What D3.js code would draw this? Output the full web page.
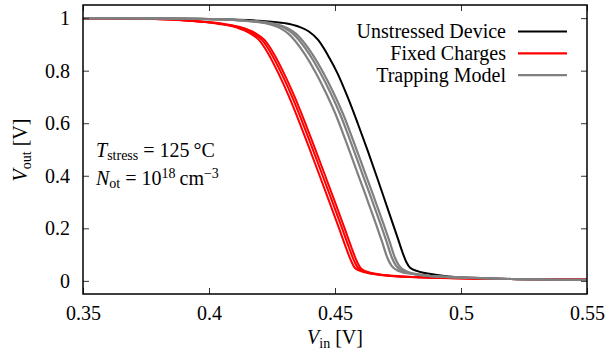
<!DOCTYPE html>
<html><head><meta charset="utf-8">
<script src="https://cdn.jsdelivr.net/npm/d3@7"></script>
<style>
body{margin:0;background:#fff;}
</style></head>
<body><svg id="c" width="610" height="353"></svg>
<script>
const xTicks = [0.35, 0.40, 0.45, 0.50, 0.55];
const xTickLabels = ["0.35", "0.4", "0.45", "0.5", "0.55"];
const yTicks = [0, 0.2, 0.4, 0.6, 0.8, 1];
const yTickLabels = ["0", "0.2", "0.4", "0.6", "0.8", "1"];
const legendLabels = ["Unstressed Device", "Fixed Charges", "Trapping Model"];
const legendColors = ["#000000", "#ff0000", "#808080"];

const unstressed = [[0.35,1.0],[0.38,0.999],[0.40,0.997],[0.42,0.99],[0.43,0.981],[0.4355,0.968],[0.4395,0.95],[0.4433,0.917],[0.4470,0.862],[0.4510,0.790],[0.4550,0.700],[0.4590,0.600],[0.4630,0.495],[0.4670,0.385],[0.4710,0.272],[0.4750,0.160],[0.4768,0.108],[0.4783,0.072],[0.4798,0.050],[0.4830,0.036],[0.4880,0.026],[0.4950,0.017],[0.505,0.011],[0.52,0.007],[0.55,0.004]];

const fixed1 = [[0.35,1.0],[0.37,0.999],[0.385,0.995],[0.395,0.988],[0.404,0.978],[0.4113,0.963],[0.4158,0.945],[0.4198,0.917],[0.4238,0.86],[0.4278,0.785],[0.4318,0.70],[0.4358,0.605],[0.4398,0.505],[0.4438,0.403],[0.4478,0.300],[0.4518,0.195],[0.4543,0.128],[0.4563,0.078],[0.4580,0.048],[0.4605,0.036],[0.4660,0.025],[0.4750,0.017],[0.49,0.012],[0.51,0.008],[0.55,0.005]];
const fixed2 = [[0.35,1.0],[0.37,0.999],[0.385,0.995],[0.395,0.988],[0.405,0.978],[0.4125,0.963],[0.4170,0.945],[0.4210,0.917],[0.4250,0.86],[0.4290,0.785],[0.4330,0.70],[0.4370,0.605],[0.4410,0.505],[0.4450,0.403],[0.4490,0.300],[0.4530,0.195],[0.4555,0.128],[0.4575,0.078],[0.4592,0.048],[0.4617,0.035],[0.4670,0.024],[0.4758,0.017],[0.49,0.012],[0.51,0.008],[0.55,0.005]];
const fixed3 = [[0.35,1.0],[0.37,0.999],[0.385,0.995],[0.395,0.988],[0.406,0.978],[0.4135,0.963],[0.4180,0.945],[0.4220,0.917],[0.4260,0.86],[0.4300,0.785],[0.4340,0.70],[0.4380,0.605],[0.4420,0.505],[0.4460,0.403],[0.4500,0.300],[0.4540,0.195],[0.4565,0.128],[0.4585,0.078],[0.4602,0.048],[0.4627,0.035],[0.4680,0.024],[0.4765,0.017],[0.49,0.012],[0.51,0.008],[0.55,0.005]];

const trap1 = [[0.35,1.0],[0.38,0.999],[0.40,0.996],[0.414,0.99],[0.4235,0.978],[0.4282,0.962],[0.4316,0.94],[0.4343,0.912],[0.4382,0.86],[0.4422,0.795],[0.4462,0.72],[0.4502,0.635],[0.4542,0.535],[0.4582,0.430],[0.4622,0.325],[0.4662,0.218],[0.4687,0.148],[0.4707,0.090],[0.4724,0.058],[0.4752,0.038],[0.4815,0.025],[0.4910,0.016],[0.505,0.011],[0.52,0.007],[0.55,0.004]];
const trap2 = [[0.35,1.0],[0.38,0.999],[0.40,0.996],[0.415,0.99],[0.425,0.978],[0.4300,0.962],[0.4334,0.94],[0.4361,0.912],[0.4400,0.86],[0.4440,0.795],[0.4480,0.72],[0.4520,0.635],[0.4560,0.535],[0.4600,0.430],[0.4640,0.325],[0.4680,0.218],[0.4705,0.148],[0.4725,0.090],[0.4742,0.058],[0.4770,0.038],[0.4830,0.024],[0.4917,0.016],[0.505,0.011],[0.52,0.007],[0.55,0.004]];
const trap3 = [[0.35,1.0],[0.38,0.999],[0.40,0.996],[0.4155,0.99],[0.4262,0.978],[0.4312,0.962],[0.4346,0.94],[0.4373,0.912],[0.4412,0.86],[0.4452,0.795],[0.4492,0.72],[0.4532,0.635],[0.4572,0.535],[0.4612,0.430],[0.4652,0.325],[0.4692,0.218],[0.4717,0.148],[0.4737,0.090],[0.4754,0.058],[0.4780,0.038],[0.4838,0.024],[0.4922,0.016],[0.505,0.011],[0.52,0.007],[0.55,0.004]];

const FONT = "'Liberation Serif','DejaVu Serif','Noto Serif','Times New Roman',Times,serif";
const svg = d3.select("#c").attr("font-family", FONT);
const L = 83, R = 587, T = 5, B = 294;
const x = d3.scaleLinear().domain([0.35, 0.55]).range([L, R]);
const y = d3.scaleLinear().domain([-0.05, 1.05]).range([B, T]);

svg.append("clipPath").attr("id","clp").append("rect")
  .attr("x", L).attr("y", T).attr("width", R-L).attr("height", B-T);
const plot = svg.append("g").attr("clip-path","url(#clp)");
const line = d3.line().x(d => x(d[0])).y(d => y(d[1])).curve(d3.curveMonotoneX);
const series = [
  {d: unstressed, c: legendColors[0], w: 2},
  {d: fixed1, c: legendColors[1], w: 2},
  {d: fixed2, c: legendColors[1], w: 2},
  {d: fixed3, c: legendColors[1], w: 2},
  {d: trap1, c: legendColors[2], w: 2.2},
  {d: trap2, c: legendColors[2], w: 2.2},
  {d: trap3, c: legendColors[2], w: 2.2}
];
plot.selectAll("path.s").data(series).join("path").attr("class","s")
  .attr("d", s => line(s.d)).attr("fill","none")
  .attr("stroke", s => s.c).attr("stroke-width", s => s.w)
  .attr("stroke-linejoin","round");

const fs = 20;
const axB = d3.axisBottom(x).tickValues(xTicks).tickFormat((d,i)=>xTickLabels[i]).tickSizeInner(-6).tickSizeOuter(0).tickPadding(12);
const axT = d3.axisTop(x).tickValues(xTicks).tickFormat("").tickSizeInner(-6).tickSizeOuter(0);
const axL = d3.axisLeft(y).tickValues(yTicks).tickFormat((d,i)=>yTickLabels[i]).tickSizeInner(-6).tickSizeOuter(0).tickPadding(13);
const axR = d3.axisRight(y).tickValues(yTicks).tickFormat("").tickSizeInner(-6).tickSizeOuter(0);
function style(g){
  g.attr("font-family", FONT).attr("font-size", fs);
  g.select(".domain").remove();
  g.selectAll(".tick line").attr("stroke","#333").attr("stroke-width",1);
  g.selectAll(".tick text").attr("font-family", FONT).attr("font-size", fs).attr("fill","#000");
}
svg.append("g").attr("transform",`translate(0,${B})`).call(axB).call(style);
svg.append("g").attr("transform",`translate(0,${T})`).call(axT).call(style);
svg.append("g").attr("transform",`translate(${L},0)`).call(axL).call(style);
svg.append("g").attr("transform",`translate(${R},0)`).call(axR).call(style);
svg.append("rect").attr("x",L).attr("y",T).attr("width",R-L).attr("height",B-T)
  .attr("fill","none").attr("stroke","#000").attr("stroke-width",1.5);

function txt(sel){ return sel.attr("font-family", FONT).attr("font-size", fs); }

const lg = svg.append("g");
legendLabels.forEach((lab,i)=>{
  const yy = 31.5 + i*21.8;
  txt(lg.append("text")).attr("x",506).attr("y",yy+6.5).attr("text-anchor","end").text(lab);
  lg.append("line").attr("x1",518).attr("x2",567).attr("y1",yy).attr("y2",yy)
    .attr("stroke",legendColors[i]).attr("stroke-width",2.2);
});

const a1 = txt(svg.append("text")).attr("x",96).attr("y",157);
a1.append("tspan").attr("font-style","italic").text("T");
a1.append("tspan").attr("dy",3).attr("font-size",14).text("stress");
a1.append("tspan").attr("dy",-3).attr("dx",5).text("=");
a1.append("tspan").attr("dx",5).text("125");
a1.append("tspan").attr("dx",4).text("°C");
const a2 = txt(svg.append("text")).attr("x",96).attr("y",185);
a2.append("tspan").attr("font-style","italic").text("N");
a2.append("tspan").attr("dy",3).attr("font-size",14).text("ot");
a2.append("tspan").attr("dy",-3).attr("dx",5).text("=");
a2.append("tspan").attr("dx",5).text("10");
a2.append("tspan").attr("dy",-7).attr("font-size",14).text("18");
a2.append("tspan").attr("dy",7).attr("dx",4).text("cm");
a2.append("tspan").attr("dy",-7).attr("font-size",14).text("\u22123");

const xl = txt(svg.append("text")).attr("x",335).attr("y",344).attr("text-anchor","middle");
xl.append("tspan").attr("font-style","italic").text("V");
xl.append("tspan").attr("dy",4).attr("font-size",14).text("in");
xl.append("tspan").attr("dy",-4).text(" [V]");
const yl = txt(svg.append("text")).attr("transform","translate(27,150) rotate(-90)").attr("text-anchor","middle");
yl.append("tspan").attr("font-style","italic").text("V");
yl.append("tspan").attr("dy",4).attr("font-size",14).text("out");
yl.append("tspan").attr("dy",-4).text(" [V]");
</script></body></html>
